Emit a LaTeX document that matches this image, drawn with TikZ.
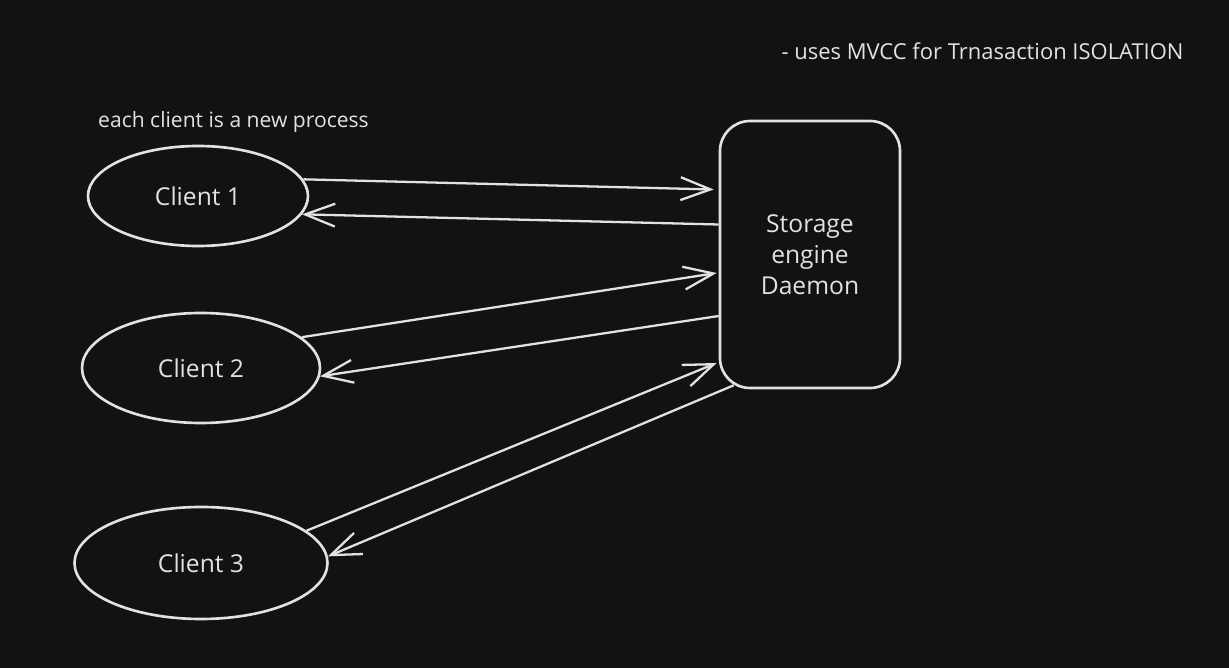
\documentclass[tikz,border=0pt]{standalone}
\usepackage{fontspec}
\setmainfont{Open Sans}
\usepackage{xcolor}
\usepackage{tikz}
\usetikzlibrary{shapes.geometric,arrows.meta}
\definecolor{canvas}{HTML}{121212}
\definecolor{chalk}{HTML}{E2E2E2}
\tikzset{
    client/.style={ellipse, draw=chalk, line width=1.5pt, inner sep=0pt, text=chalk, font=\fontsize{14}{17}\selectfont},
    daemon/.style={rectangle, draw=chalk, line width=1.5pt, rounded corners=0.6cm, text=chalk, align=center, font=\fontsize{14}{17.6}\selectfont},
    note/.style={text=chalk, inner sep=0pt},
    flow/.style={draw=chalk, line width=1.3pt, -{Straight Barb[length=17pt,width=13pt,line width=1.3pt]}}
}
\begin{document}
\begin{tikzpicture}
    % canvas
    \fill[canvas] (0,0) rectangle (24.58,13.36);
    \useasboundingbox (0,0) rectangle (24.58,13.36);

    % notes
    \node[note, font=\fontsize{12}{14}\selectfont] (procnote) at (4.67, 10.92) {each client is a new process};
    \node[note, font=\fontsize{12.5}{15}\selectfont] (mvccnote) at (19.65, 12.34) {- uses MVCC for Trnasaction ISOLATION};

    % clients
    \node[client, minimum width=4.4cm, minimum height=2cm] (c1) at (3.96, 9.44) {Client 1};
    \node[client, minimum width=4.76cm, minimum height=2.2cm] (c2) at (4.02, 6.0) {Client 2};
    \node[client, minimum width=5.06cm, minimum height=2.24cm] (c3) at (4.02, 2.1) {Client 3};

    % storage engine
    \node[daemon, minimum width=3.6cm, minimum height=5.34cm] (store) at (16.2, 8.27) {Storage\\engine\\Daemon};

    % requests and replies
    \draw[flow] (c1.9) -- ([xshift=-0.1cm, yshift=1.3cm]store.west);
    \draw[flow] ([yshift=0.6cm]store.west) -- (c1.-10);
    \draw[flow] (c2.17) -- ([xshift=-0.04cm, yshift=-0.37cm]store.west);
    \draw[flow] ([yshift=-1.23cm]store.west) -- (c2.-4);
    \draw[flow] (c3.17) -- ([xshift=-0.04cm, yshift=-2.17cm]store.west);
    \draw[flow] ([xshift=0.3cm, yshift=0.08cm]store.south west) -- (c3.3);
\end{tikzpicture}
\end{document}
